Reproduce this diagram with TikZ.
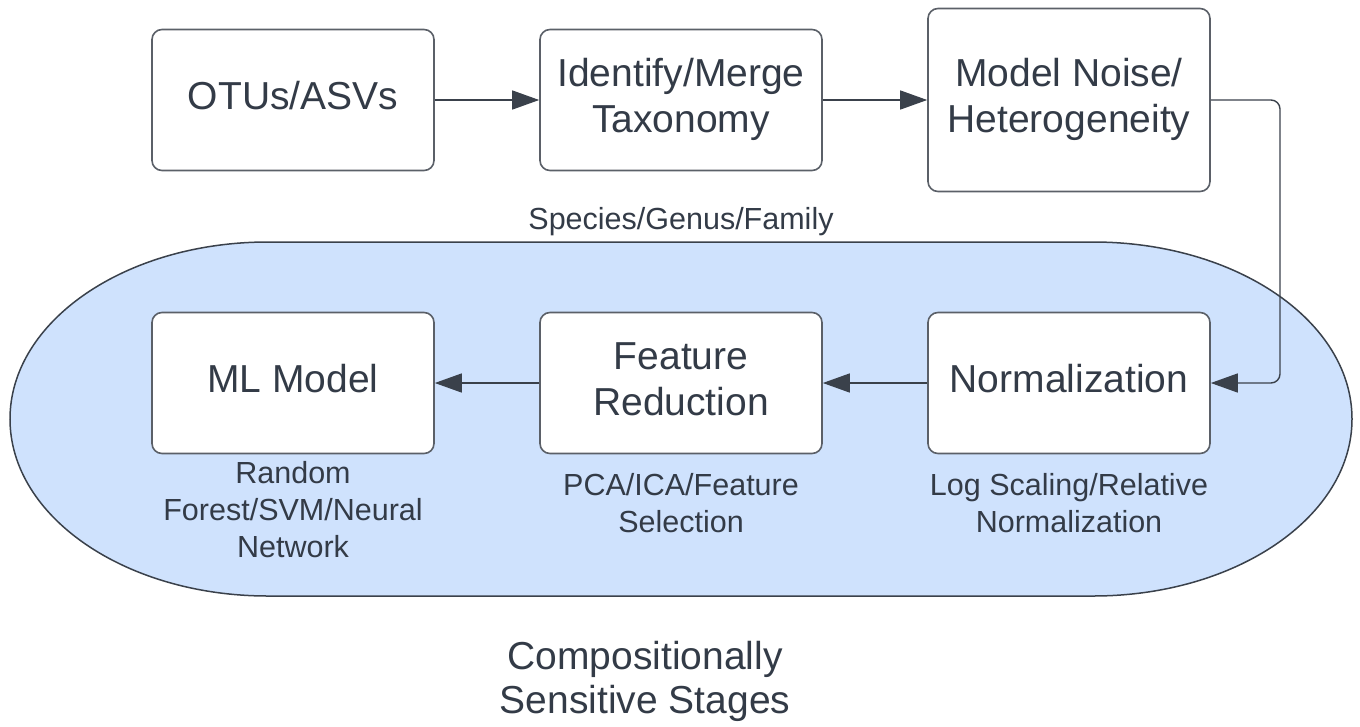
\documentclass[tikz,border=0pt]{standalone}
\usepackage{fontspec}
\setmainfont{Liberation Sans}
\usetikzlibrary{arrows.meta}
\definecolor{txt}{HTML}{333B47}
\definecolor{edge}{HTML}{3A414B}
\definecolor{boxline}{HTML}{5B6068}
\definecolor{zone}{HTML}{CFE2FD}
\newcommand\liftup[1]{\raisebox{5pt}{\begin{tabular}{@{}c@{}}#1\end{tabular}}}
\begin{document}
\begin{tikzpicture}[x=1pt,y=-1pt,
  stage/.style={draw=boxline, line width=1.6pt, fill=white, rounded corners=10pt,
    minimum width=282pt, minimum height=141pt, inner sep=0pt, align=center,
    text=txt, font=\fontsize{39}{46}\selectfont},
  note/.style={align=center, text=txt, inner sep=0pt, font=\fontsize{30.5}{37}\selectfont},
  flow/.style={draw=edge, line width=1.4pt, -{Triangle[length=27pt,width=19pt]}}]
\useasboundingbox (0,0) rectangle (1360,726);
% zone
\path[fill=zone, draw=edge, line width=1.5pt]
  (268,242) -- (1093,242) arc[start angle=-90, end angle=90, x radius=259, y radius=177]
  -- (268,596) arc[start angle=90, end angle=270, x radius=258, y radius=177] -- cycle;
% boxes
\node[stage] (otu) at (293,100) {\liftup{OTUs/ASVs}};
\node[stage] (tax) at (681,100) {\liftup{Identify/Merge\\Taxonomy}};
\node[stage, minimum height=183pt] (noise) at (1069,100) {\liftup{Model Noise/\\Heterogeneity}};
\node[stage] (ml) at (293,383) {\liftup{ML Model}};
\node[stage] (feat) at (681,383) {\liftup{Feature\\Reduction}};
\node[stage] (norm) at (1069,383) {\liftup{Normalization}};
% labels
\node[note] (lspec) at (681,222) {Species/Genus/Family};
\node[note] (lml) at (293,510) {Random\\Forest/SVM/Neural\\Network};
\node[note] (lfeat) at (681,503) {PCA/ICA/Feature\\Selection};
\node[note] (lnorm) at (1069,503) {Log Scaling/Relative\\Normalization};
\node[align=center, text=txt, inner sep=0pt, font=\fontsize{39}{44}\selectfont] (title) at (645,681) {Compositionally\\Sensitive Stages};
% connectors
\draw[flow] (otu.east) -- (tax.west);
\draw[flow] (tax.east) -- (noise.west);
\coordinate (c1) at (1280,100);
\coordinate (c2) at (1280,383);
\draw[flow, rounded corners=9pt] (noise.east) -- (c1) -- (c2) -- (norm.east);
\draw[flow] (norm.west) -- (feat.east);
\draw[flow] (feat.west) -- (ml.east);
\end{tikzpicture}
\end{document}
